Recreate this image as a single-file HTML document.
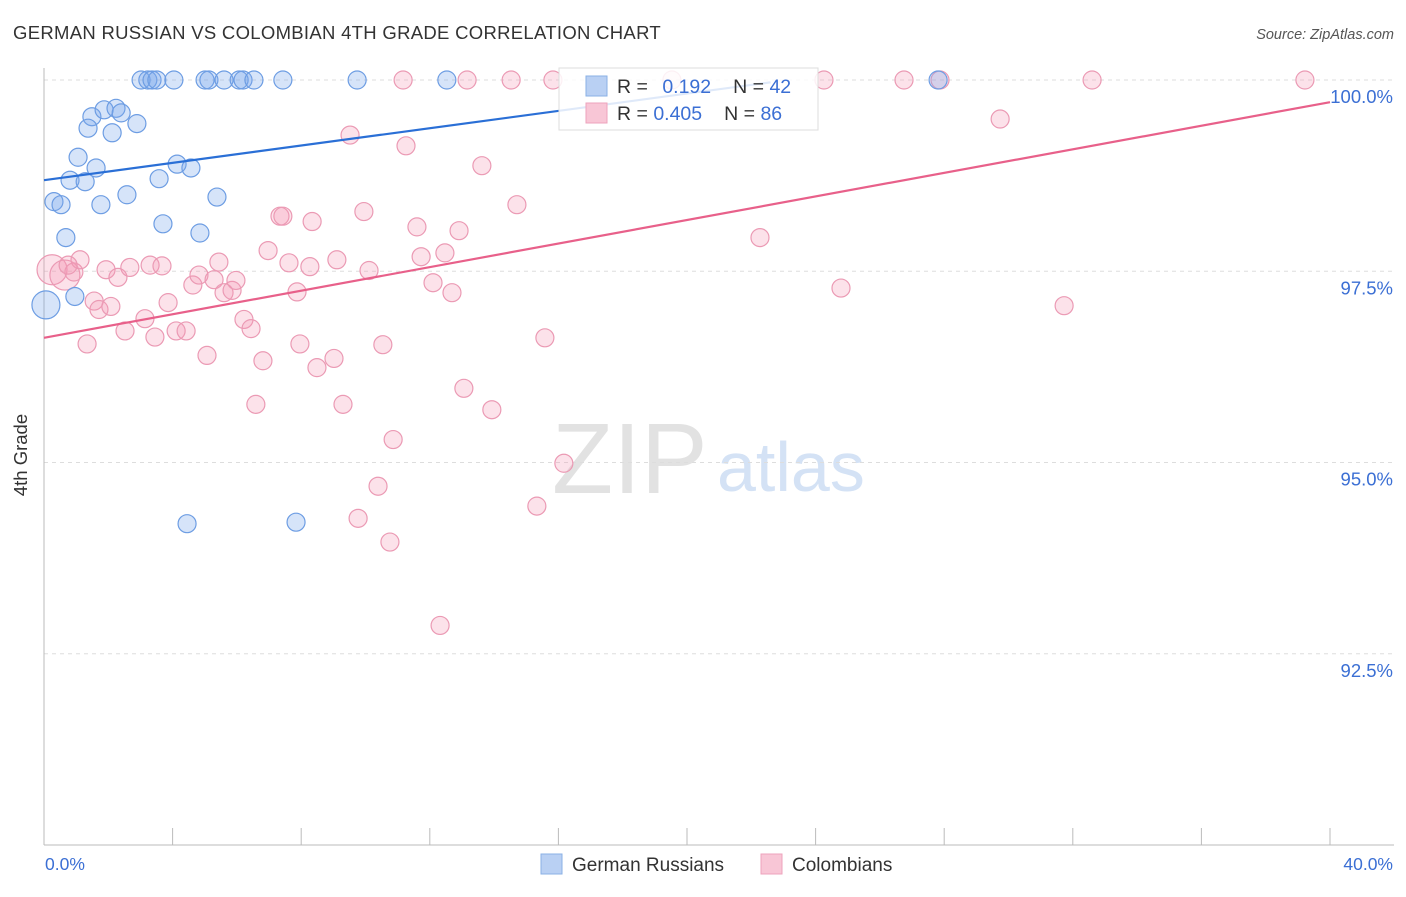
<!DOCTYPE html>
<html><head><meta charset="utf-8"><style>
body{margin:0;background:#fff;font-family:"Liberation Sans",sans-serif;}
svg text{font-family:"Liberation Sans",sans-serif;}
</style></head><body>
<svg id="chart" width="1406" height="892" viewBox="0 0 1406 892">
<text x="13" y="39" font-size="18.5" letter-spacing="0.3" fill="#333">GERMAN RUSSIAN VS COLOMBIAN 4TH GRADE CORRELATION CHART</text>
<text x="1394" y="39" font-size="14.5" fill="#555" text-anchor="end" font-style="italic">Source: ZipAtlas.com</text>
<g>
<text x="552" y="493" font-size="100" fill="#e2e2e2" font-family="Liberation Serif,serif">ZIP</text>
<text x="717" y="491" font-size="70" fill="#d4e2f5">atlas</text>
</g>
<g id="grid"></g>
<g id="axes"></g>
<g id="pts"></g>
<g id="lines"></g>
<text x="27" y="455" font-size="18.5" fill="#333" text-anchor="middle" transform="rotate(-90 27 455)">4th Grade</text>
<g>
<rect x="559" y="68" width="259" height="62" fill="#fff" fill-opacity="0.85" stroke="#ddd"/>
<rect x="586" y="76" width="21" height="20" fill="#b9d0f3" stroke="#8ab0e6"/>
<rect x="586" y="103" width="21" height="20" fill="#f8c6d6" stroke="#eea3bc"/>
<text x="617" y="93" font-size="19.5" fill="#333">R = <tspan fill="#3b6fd4" dx="9">0.192</tspan><tspan dx="22">N = </tspan><tspan fill="#3b6fd4">42</tspan></text>
<text x="617" y="120" font-size="19.5" fill="#333">R = <tspan fill="#3b6fd4">0.405</tspan><tspan dx="22">N = </tspan><tspan fill="#3b6fd4">86</tspan></text>
</g>
<g>
<rect x="541" y="854" width="21" height="20" fill="#b9d0f3" stroke="#8ab0e6"/>
<text x="572" y="871" font-size="19" fill="#333">German Russians</text>
<rect x="761" y="854" width="21" height="20" fill="#f8c6d6" stroke="#eea3bc"/>
<text x="792" y="871" font-size="19" fill="#333">Colombians</text>
</g>
</svg>
<script>
const yTicks=[100,97.5,95,92.5];
const yTickLabels=["100.0%","97.5%","95.0%","92.5%"];
const xTickLabels=["0.0%","40.0%"];
const blueX=[3.02,3.23,3.36,3.51,4.04,5.01,5.13,5.60,6.07,6.19,6.53,7.43,9.74,12.53,27.81,1.49,1.37,1.87,2.24,2.40,2.12,2.89,1.06,1.62,4.14,4.57,0.81,1.28,3.58,0.31,0.53,1.77,2.58,5.38,3.70,4.85,0.68,0.96,4.45,7.84,0.06];
const blueY=[100,100,100,100,100,100,100,100,100,100,100,100,100,100,100,99.52,99.37,99.61,99.63,99.57,99.31,99.43,98.99,98.85,98.90,98.85,98.69,98.67,98.71,98.41,98.37,98.37,98.50,98.47,98.12,98.00,97.94,97.17,94.20,94.22,97.06];
const blueBig=[40];
const pinkX=[0.25,0.65,0.93,1.12,0.75,1.56,1.71,2.08,1.93,2.30,2.67,3.30,3.67,1.34,2.52,3.14,3.45,3.86,4.11,4.42,4.63,4.82,5.07,5.29,5.44,5.60,5.85,5.97,6.22,6.44,6.59,6.81,6.97,7.34,7.43,7.62,7.87,7.96,8.27,8.34,8.49,9.02,9.11,9.30,9.52,9.77,9.95,10.11,10.39,10.54,10.76,10.86,11.26,11.60,11.73,12.10,12.32,12.47,12.69,12.91,13.06,13.62,13.93,14.71,15.33,15.58,16.17,22.27,24.79,29.74,31.73,11.17,13.16,14.53,15.83,19.53,24.26,26.75,27.87,32.60,39.22];
const pinkY=[97.52,97.45,97.49,97.65,97.58,97.11,97.00,97.04,97.52,97.42,97.55,97.58,97.57,96.55,96.72,96.88,96.64,97.09,96.72,96.72,97.32,97.45,96.40,97.39,97.62,97.22,97.25,97.38,96.87,96.75,95.76,96.33,97.77,98.22,98.22,97.61,97.23,96.55,97.56,98.15,96.24,96.36,97.65,95.76,99.28,94.27,98.28,97.51,94.69,96.54,93.96,95.30,99.14,98.08,97.69,97.35,92.87,97.74,97.22,98.03,95.97,98.88,95.69,98.37,94.43,96.63,94.99,97.94,97.28,99.49,97.05,100,100,100,100,100,100,100,100,100,100];
const pinkBig=[0,1];
const blueLine=[[0,98.69],[22.6,99.97]];
const pinkLine=[[0,96.63],[40,99.71]];
const NS="http://www.w3.org/2000/svg";
const X=v=>44+v*32.15, Y=v=>80+(100-v)*76.5;
function mk(tag,attrs,parent){const e=document.createElementNS(NS,tag);for(const k in attrs)e.setAttribute(k,attrs[k]);document.getElementById(parent).appendChild(e);return e;}
yTicks.forEach((t,i)=>{
 const l=mk('line',{x1:44,x2:1394,y1:Y(t),y2:Y(t),stroke:'#ddd','stroke-dasharray':'4,4'},'grid');
 
 
 const tx=mk('text',{x:1393,y:Y(t)+23,'font-size':18.5,fill:'#3b6fd4','text-anchor':'end'},'grid');
 tx.textContent=yTickLabels[i];
 
 
});
const ya=mk('line',{x1:44,x2:44,y1:68,y2:845,stroke:'#bbb'},'axes');


const xa=mk('line',{x1:44,x2:1394,y1:845,y2:845,stroke:'#bbb'},'axes');


for(let i=0;i<=10;i++){
 const t=mk('line',{x1:X(i*4),x2:X(i*4),y1:828,y2:845,stroke:'#bbb'},'axes');
 
 
}
[[0,'start',45],[1,'end',1393]].forEach(([i,a,x])=>{
 const t=mk('text',{x:x,y:870,'font-size':17.5,fill:'#3b6fd4','text-anchor':a},'axes');
 t.textContent=xTickLabels[i];
 
 
});
pinkX.forEach((v,i)=>{
 const c=mk('circle',{cx:X(v),cy:Y(pinkY[i]),r:pinkBig.includes(i)?15:9,fill:'rgba(244,150,180,0.28)',stroke:'#eb9ab4','stroke-width':1.2},'pts');
 
 
});
blueX.forEach((v,i)=>{
 const c=mk('circle',{cx:X(v),cy:Y(blueY[i]),r:blueBig.includes(i)?14:9,fill:'rgba(120,165,235,0.3)',stroke:'#6d9de3','stroke-width':1.2},'pts');
 
 
});
const bl=mk('line',{x1:X(blueLine[0][0]),y1:Y(blueLine[0][1]),x2:X(blueLine[1][0]),y2:Y(blueLine[1][1]),stroke:'#2a6fd6','stroke-width':2.2},'lines');


const pl=mk('line',{x1:X(pinkLine[0][0]),y1:Y(pinkLine[0][1]),x2:X(pinkLine[1][0]),y2:Y(pinkLine[1][1]),stroke:'#e8608a','stroke-width':2.2},'lines');


</script>
</body></html>
